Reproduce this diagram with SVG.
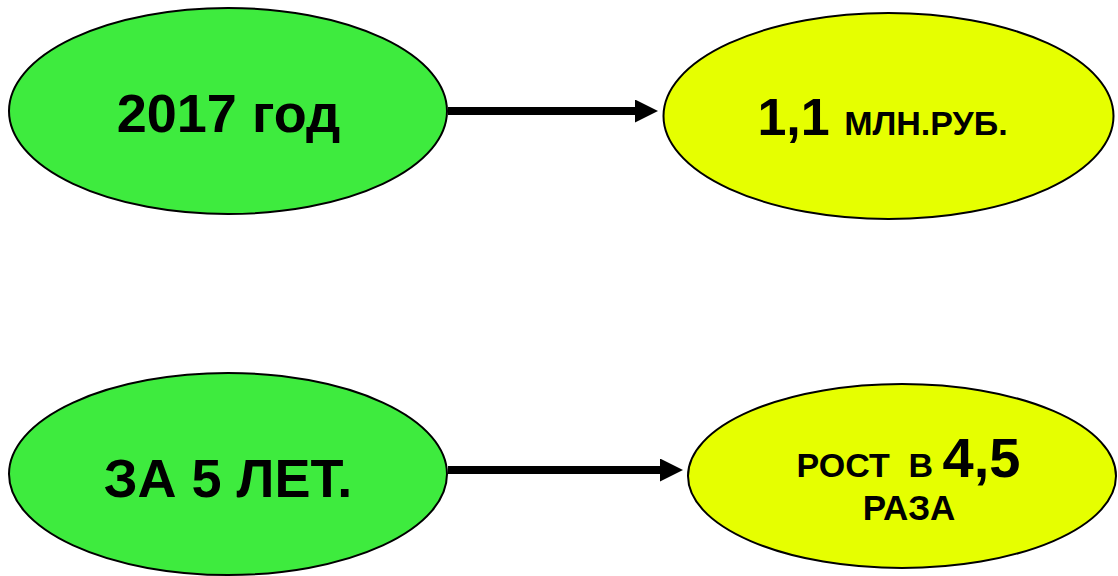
<svg xmlns="http://www.w3.org/2000/svg" width="1118" height="576" viewBox="0 0 1118 576">
<style>
.g{fill:#3eeb3e;stroke:#000;stroke-width:2}
.y{fill:#e6ff00;stroke:#000;stroke-width:2}
text{font-family:"Liberation Sans",Arial,sans-serif;font-weight:bold;fill:#000;text-anchor:middle}
.c{stroke:#000;stroke-width:8;fill:none}
</style>
<defs>
<marker id="ah" markerUnits="userSpaceOnUse" markerWidth="24" markerHeight="24" refX="1" refY="11.5" orient="auto">
<path d="M0,0 L23,11.5 L0,23 Z" fill="#000"/>
</marker>
</defs>
<rect width="1118" height="576" fill="#fff"/>
<g id="n2017">
<ellipse class="g" cx="228" cy="111" rx="219" ry="103"/>
<text x="228.5" y="132" font-size="54">2017 год</text>
</g>
<g id="nmln">
<ellipse class="y" cx="888.5" cy="116" rx="225" ry="103"/>
<text x="882.5" y="135"><tspan font-size="52">1,1 </tspan><tspan font-size="34">МЛН.РУБ.</tspan></text>
</g>
<g id="n5let">
<ellipse class="g" cx="228" cy="474" rx="219" ry="101"/>
<text x="228" y="497" font-size="54">ЗА 5 ЛЕТ.</text>
</g>
<g id="nrost">
<ellipse class="y" cx="902" cy="476" rx="214" ry="92"/>
<text x="908.5" y="477" xml:space="preserve"><tspan font-size="34">РОСТ  В </tspan><tspan font-size="56">4,5</tspan></text>
<text x="909" y="520" font-size="35">РАЗА</text>
</g>
<g id="connectors">
<line class="c" x1="448" y1="111" x2="636" y2="111" marker-end="url(#ah)"/>
<line class="c" x1="448" y1="470" x2="661" y2="470" marker-end="url(#ah)"/>
</g>
</svg>
